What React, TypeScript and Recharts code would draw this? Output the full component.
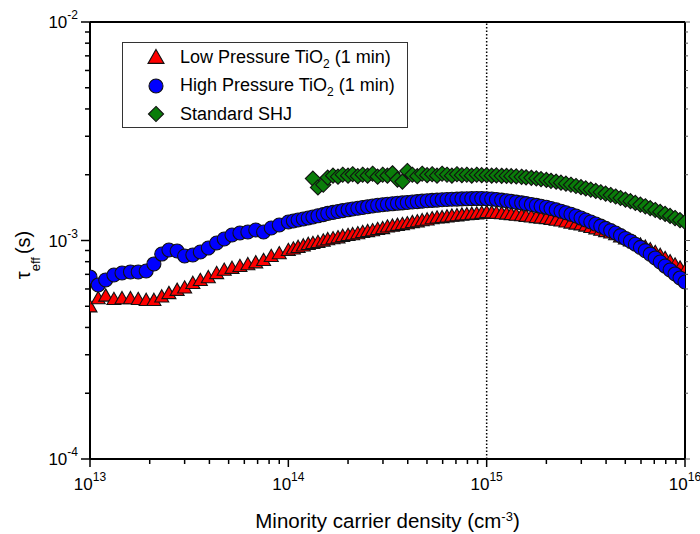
import React from 'react';
import { ScatterChart, Scatter, XAxis, YAxis, ReferenceLine, Legend } from 'recharts';

const FONT = 'Arial, "Liberation Sans", sans-serif';

// minority carrier density (cm^-3), shared by the three measurements
const carrierDensity = [
    1.0e13, 1.1e13, 1.2e13, 1.32e13, 1.45e13, 1.6e13, 1.75e13, 1.92e13, 2.1e13, 2.3e13,
    2.5e13, 2.75e13, 3.0e13, 3.3e13, 3.6e13, 3.95e13, 4.35e13, 4.75e13, 5.2e13, 5.7e13,
    6.25e13, 6.85e13, 7.5e13, 8.2e13, 9.0e13,
    1.0e14, 1.06e14, 1.12e14, 1.19e14, 1.26e14, 1.33e14, 1.41e14, 1.5e14, 1.58e14, 1.68e14,
    1.78e14, 1.88e14, 2.0e14, 2.11e14, 2.24e14, 2.37e14, 2.51e14, 2.66e14, 2.82e14, 2.99e14,
    3.16e14, 3.35e14, 3.55e14, 3.76e14, 3.98e14, 4.22e14, 4.47e14, 4.73e14, 5.01e14, 5.31e14,
    5.62e14, 5.96e14, 6.31e14, 6.68e14, 7.08e14, 7.5e14, 7.94e14, 8.41e14, 8.91e14, 9.44e14,
    1.0e15, 1.06e15, 1.12e15, 1.19e15, 1.26e15, 1.33e15, 1.41e15, 1.5e15, 1.58e15, 1.68e15,
    1.78e15, 1.88e15, 2.0e15, 2.11e15, 2.24e15, 2.37e15, 2.51e15, 2.66e15, 2.82e15, 2.99e15,
    3.16e15, 3.35e15, 3.55e15, 3.76e15, 3.98e15, 4.22e15, 4.47e15, 4.73e15, 5.01e15, 5.31e15,
    5.62e15, 5.96e15, 6.31e15, 6.68e15, 7.08e15, 7.5e15, 7.94e15, 8.41e15, 8.91e15, 9.44e15,
    1.0e16,
];

// effective lifetime (s)
const tauLowPressure = [
    5.0e-4, 5.45e-4, 5.6e-4, 5.4e-4, 5.45e-4, 5.45e-4, 5.4e-4, 5.35e-4, 5.35e-4, 5.55e-4,
    5.75e-4, 5.95e-4, 6.1e-4, 6.4e-4, 6.6e-4, 6.8e-4, 7.1e-4, 7.35e-4, 7.5e-4, 7.65e-4,
    7.8e-4, 7.95e-4, 8.15e-4, 8.5e-4, 8.75e-4,
    9.05e-4, 9.2e-4, 9.35e-4, 9.5e-4, 9.65e-4, 9.75e-4, 9.85e-4, 1.0e-3, 1.015e-3, 1.025e-3,
    1.035e-3, 1.05e-3, 1.06e-3, 1.07e-3, 1.08e-3, 1.095e-3, 1.105e-3, 1.115e-3, 1.13e-3, 1.14e-3,
    1.16e-3, 1.17e-3, 1.18e-3, 1.19e-3, 1.2e-3, 1.215e-3, 1.225e-3, 1.24e-3, 1.25e-3, 1.265e-3,
    1.275e-3, 1.28e-3, 1.29e-3, 1.3e-3, 1.305e-3, 1.315e-3, 1.32e-3, 1.325e-3, 1.33e-3, 1.34e-3,
    1.35e-3, 1.346e-3, 1.34e-3, 1.335e-3, 1.329e-3, 1.322e-3, 1.314e-3, 1.306e-3, 1.297e-3, 1.289e-3,
    1.281e-3, 1.274e-3, 1.267e-3, 1.257e-3, 1.246e-3, 1.235e-3, 1.222e-3, 1.209e-3, 1.196e-3, 1.186e-3,
    1.171e-3, 1.155e-3, 1.138e-3, 1.122e-3, 1.105e-3, 1.089e-3, 1.069e-3, 1.046e-3, 1.024e-3, 1.002e-3,
    9.8e-4, 9.59e-4, 9.38e-4, 9.12e-4, 8.86e-4, 8.6e-4, 8.32e-4, 8.04e-4, 7.77e-4, 7.52e-4,
    7.29e-4,
];

const tauHighPressure = [
    6.81e-4, 6.26e-4, 6.6e-4, 6.95e-4, 7.1e-4, 7.18e-4, 7.18e-4, 7.25e-4, 7.81e-4, 8.67e-4,
    9.05e-4, 8.95e-4, 8.49e-4, 8.58e-4, 8.86e-4, 9.24e-4, 9.74e-4, 1.016e-3, 1.06e-3, 1.082e-3,
    1.094e-3, 1.117e-3, 1.094e-3, 1.141e-3, 1.177e-3,
    1.215e-3, 1.228e-3, 1.241e-3, 1.254e-3, 1.268e-3, 1.281e-3, 1.297e-3, 1.314e-3, 1.331e-3, 1.345e-3,
    1.358e-3, 1.37e-3, 1.382e-3, 1.394e-3, 1.405e-3, 1.417e-3, 1.428e-3, 1.439e-3, 1.449e-3, 1.457e-3,
    1.465e-3, 1.472e-3, 1.48e-3, 1.486e-3, 1.493e-3, 1.501e-3, 1.507e-3, 1.514e-3, 1.52e-3, 1.526e-3,
    1.531e-3, 1.536e-3, 1.54e-3, 1.544e-3, 1.547e-3, 1.55e-3, 1.552e-3, 1.554e-3, 1.556e-3, 1.556e-3,
    1.553e-3, 1.548e-3, 1.54e-3, 1.531e-3, 1.521e-3, 1.51e-3, 1.499e-3, 1.487e-3, 1.475e-3, 1.462e-3,
    1.448e-3, 1.434e-3, 1.419e-3, 1.401e-3, 1.382e-3, 1.362e-3, 1.34e-3, 1.318e-3, 1.295e-3, 1.267e-3,
    1.241e-3, 1.215e-3, 1.189e-3, 1.163e-3, 1.136e-3, 1.11e-3, 1.082e-3, 1.053e-3, 1.022e-3, 9.93e-4,
    9.61e-4, 9.3e-4, 8.99e-4, 8.66e-4, 8.32e-4, 7.97e-4, 7.64e-4, 7.33e-4, 7.03e-4, 6.74e-4,
    6.46e-4,
];

const tauStandardSHJ = [
    null, null, null, null, null, null, null, null, null, null,
    null, null, null, null, null, null, null, null, null, null,
    null, null, null, null, null,
    null, null, null, null, null, 1.92e-3, 1.75e-3, 1.8e-3, 1.94e-3, 1.98e-3,
    1.96e-3, 2.0e-3, 1.98e-3, 2.01e-3, 1.97e-3, 2.0e-3, 1.98e-3, 2.02e-3, 1.96e-3, 2.0e-3,
    1.98e-3, 2.03e-3, 1.9e-3, 1.86e-3, 2.08e-3, 2.0e-3, 1.97e-3, 2.02e-3, 1.99e-3, 2.01e-3,
    1.98e-3, 2.02e-3, 2.0e-3, 1.98e-3, 2.01e-3, 1.99e-3, 2.0e-3, 1.98e-3, 2.0e-3, 1.99e-3,
    1.99e-3, 1.98e-3, 1.985e-3, 1.977e-3, 1.975e-3, 1.97e-3, 1.965e-3, 1.957e-3, 1.946e-3, 1.936e-3,
    1.924e-3, 1.91e-3, 1.894e-3, 1.876e-3, 1.859e-3, 1.839e-3, 1.82e-3, 1.799e-3, 1.776e-3, 1.754e-3,
    1.731e-3, 1.71e-3, 1.687e-3, 1.663e-3, 1.639e-3, 1.615e-3, 1.59e-3, 1.565e-3, 1.539e-3, 1.514e-3,
    1.486e-3, 1.46e-3, 1.434e-3, 1.407e-3, 1.379e-3, 1.352e-3, 1.324e-3, 1.296e-3, 1.267e-3, 1.24e-3,
    1.215e-3,
];

const xTicks = [
    1e13, 2e13, 3e13, 4e13, 5e13, 6e13, 7e13, 8e13, 9e13,
    1e14, 2e14, 3e14, 4e14, 5e14, 6e14, 7e14, 8e14, 9e14,
    1e15, 2e15, 3e15, 4e15, 5e15, 6e15, 7e15, 8e15, 9e15,
    1e16,
];

const yTicks = [
    1e-4, 2e-4, 3e-4, 4e-4, 5e-4, 6e-4, 7e-4, 8e-4, 9e-4,
    1e-3, 2e-3, 3e-3, 4e-3, 5e-3, 6e-3, 7e-3, 8e-3, 9e-3,
    1e-2,
];

const series = [
    { key: 'low', label: ['Low Pressure TiO', '2', ' (1 min)'], values: tauLowPressure, shape: 'triangle', fill: '#ff0000' },
    { key: 'high', label: ['High Pressure TiO', '2', ' (1 min)'], values: tauHighPressure, shape: 'circle', fill: '#0000ff' },
    { key: 'shj', label: ['Standard SHJ', '', ''], values: tauStandardSHJ, shape: 'diamond', fill: '#0a7d0a' },
];

const toPoints = (values: (number | null)[]) =>
    carrierDensity
        .map((x, i) => ({ x, y: values[i] }))
        .filter(p => p.y != null);

const isMajor = (v: number) => Math.abs(Math.log10(v) - Math.round(Math.log10(v))) < 1e-6;

const marker = (shape: string, cx: number, cy: number, r: number, fill: string) => {
    if (shape === 'circle') {
        return <circle cx={cx} cy={cy} r={r} fill={fill} stroke="#111" strokeWidth={1.1} />;
    }
    if (shape === 'triangle') {
        return (
            <polygon
                points={`${cx},${cy - r * 0.95} ${cx + r},${cy + r * 0.8} ${cx - r},${cy + r * 0.8}`}
                fill={fill} stroke="#111" strokeWidth={1.1}
            />
        );
    }
    const d = r * 1.08;
    return (
        <polygon
            points={`${cx},${cy - d} ${cx + d},${cy} ${cx},${cy + d} ${cx - d},${cy}`}
            fill={fill} stroke="#111" strokeWidth={1.1}
        />
    );
};

const BottomTick = ({ x, y, payload }: any) => {
    const v = payload.value;
    const major = isMajor(v);
    return (
        <g>
            <line x1={x} x2={x} y1={y} y2={y + (major ? 8 : 5)} stroke="#000" strokeWidth={1.5} />
            {major && (
                <text x={x} y={y + 31} textAnchor="middle" fontSize={17} fontFamily={FONT} fill="#000">
                    10<tspan dy={-9} fontSize={12}>{Math.round(Math.log10(v))}</tspan>
                </text>
            )}
        </g>
    );
};

const LeftTick = ({ x, y, payload }: any) => {
    const v = payload.value;
    const major = isMajor(v);
    return (
        <g>
            <line x1={x - (major ? 9 : 5)} x2={x} y1={y} y2={y} stroke="#000" strokeWidth={1.5} />
            {major && (
                <text x={x - 12} y={y + 6} textAnchor="end" fontSize={17} fontFamily={FONT} fill="#000">
                    10<tspan dy={-9} fontSize={12}>{Math.round(Math.log10(v))}</tspan>
                </text>
            )}
        </g>
    );
};

const TopTick = ({ x, y, payload }: any) => (
    <line x1={x} x2={x} y1={y} y2={y + (isMajor(payload.value) ? 5 : 3)} stroke="#555" strokeWidth={1} />
);

const RightTick = ({ x, y, payload }: any) => (
    <line x1={x} x2={x + (isMajor(payload.value) ? 5 : 3)} y1={y} y2={y} stroke="#555" strokeWidth={1} />
);

const XTitle = () => (
    <text x={387.5} y={528} textAnchor="middle" fontSize={20.5} fontFamily={FONT} fill="#000">
        Minority carrier density (cm<tspan dy={-7} fontSize={13}>-3</tspan><tspan dy={7}>)</tspan>
    </text>
);

const YTitle = () => (
    <text transform="rotate(-90)" x={-255} y={30} textAnchor="middle" fontSize={20} fontFamily={FONT} fill="#000">
        <tspan fontSize={20}>τ</tspan>
        <tspan dy={10} fontSize={13}>eff</tspan>
        <tspan dy={-10} dx={3}>(s)</tspan>
    </text>
);

const LegendBox = () => (
    <div style={{
        boxSizing: 'border-box',
        width: 286,
        height: 86,
        border: '1px solid #333',
        background: '#fff',
        fontFamily: FONT,
        fontSize: 18,
        color: '#000',
    }}>
        {series.map(s => (
            <div key={s.key} style={{ display: 'flex', alignItems: 'center', height: 28.5 }}>
                <svg width={57} height={20} style={{ display: 'block' }}>
                    {marker(s.shape, 33, 10, s.shape === 'triangle' ? 8 : 7, s.fill)}
                </svg>
                <span style={{ whiteSpace: 'nowrap' }}>
                    {s.label[0]}
                    {s.label[1] && <span style={{ fontSize: 12, position: 'relative', top: 5 }}>{s.label[1]}</span>}
                    {s.label[2]}
                </span>
            </div>
        ))}
    </div>
);

export default function App() {
    return (
        <div style={{ position: 'absolute', left: 0, top: 0, width: 700, height: 534, background: '#fff' }}>
            <ScatterChart width={700} height={534} margin={{ top: 0, right: 0, bottom: 0, left: 0 }}>
                <XAxis
                    xAxisId="bottom"
                    dataKey="x"
                    type="number"
                    scale="log"
                    domain={[1e13, 1e16]}
                    allowDataOverflow
                    ticks={xTicks}
                    interval={0}
                    height={75}
                    tickSize={0}
                    tickMargin={0}
                    tickLine={false}
                    axisLine={{ stroke: '#000', strokeWidth: 2 }}
                    tick={<BottomTick />}
                    label={<XTitle />}
                />
                <XAxis
                    xAxisId="top"
                    orientation="top"
                    type="number"
                    scale="log"
                    domain={[1e13, 1e16]}
                    allowDataOverflow
                    ticks={xTicks}
                    interval={0}
                    height={22}
                    tickSize={0}
                    tickMargin={0}
                    tickLine={false}
                    axisLine={{ stroke: '#000', strokeWidth: 2 }}
                    tick={<TopTick />}
                />
                <YAxis
                    yAxisId="left"
                    dataKey="y"
                    type="number"
                    scale="log"
                    domain={[1e-4, 1e-2]}
                    allowDataOverflow
                    ticks={yTicks}
                    interval={0}
                    width={90}
                    tickSize={0}
                    tickMargin={0}
                    tickLine={false}
                    axisLine={{ stroke: '#000', strokeWidth: 2 }}
                    tick={<LeftTick />}
                    label={<YTitle />}
                />
                <YAxis
                    yAxisId="right"
                    orientation="right"
                    type="number"
                    scale="log"
                    domain={[1e-4, 1e-2]}
                    allowDataOverflow
                    ticks={yTicks}
                    interval={0}
                    width={15}
                    tickSize={0}
                    tickMargin={0}
                    tickLine={false}
                    axisLine={{ stroke: '#000', strokeWidth: 2 }}
                    tick={<RightTick />}
                />
                {series.map(s => (
                    <Scatter
                        key={s.key}
                        name={s.label.join('')}
                        data={toPoints(s.values)}
                        xAxisId="bottom"
                        yAxisId="left"
                        isAnimationActive={false}
                        shape={(p: any) => marker(s.shape, p.cx, p.cy, 7, s.fill)}
                    />
                ))}
                <ReferenceLine
                    x={1e15}
                    xAxisId="bottom"
                    yAxisId="left"
                    stroke="#000"
                    strokeWidth={1.5}
                    strokeDasharray="1.5 2"
                />
                <Legend
                    layout="vertical"
                    align="center"
                    verticalAlign="middle"
                    content={() => <LegendBox />}
                    wrapperStyle={{ left: 122, top: 42, width: 286, height: 86 }}
                />
            </ScatterChart>
        </div>
    );
}
